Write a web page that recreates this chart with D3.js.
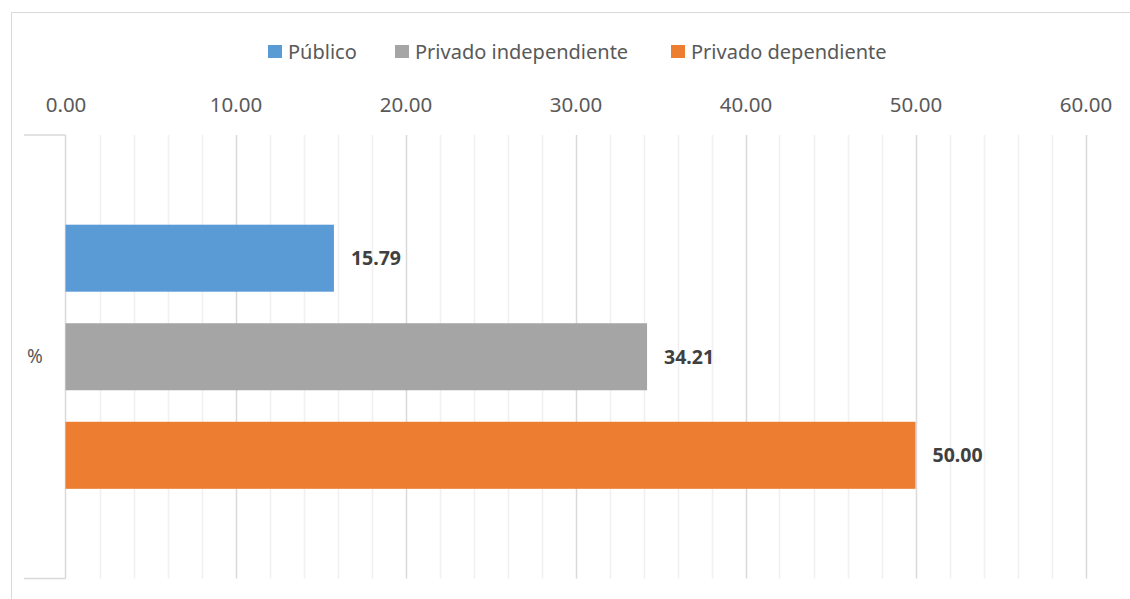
<!DOCTYPE html>
<html>
<head>
<meta charset="utf-8">
<script src="https://cdn.jsdelivr.net/npm/d3@7"></script>
<style>
  body { margin: 0; background: #fff; }
  text { font-family: "Noto Sans", sans-serif; }
</style>
</head>
<body>
<svg id="chart" width="1130" height="599"></svg>
<script>
var series = ["Público", "Privado independiente", "Privado dependiente"];
var values = [15.79, 34.21, 50.00];
var colors = ["#5B9BD5", "#A5A5A5", "#ED7D31"];
var category = "%";
var ticks = [0, 10, 20, 30, 40, 50, 60];

var svg = d3.select("#chart");
var width = 1130, height = 599;

// chart frame
svg.append("rect")
    .attr("x", 11.5).attr("y", 12.5)
    .attr("width", width + 20).attr("height", height + 20)
    .attr("fill", "none").attr("stroke", "#d9d9d9");

var plot = {left: 65.5, right: 1085.5, top: 135, bottom: 578.5};

var x = d3.scaleLinear().domain([0, 60]).range([plot.left, plot.right]);
var y = d3.scaleBand().domain(series)
    .range([plot.top, plot.bottom])
    .paddingInner(0.32).paddingOuter(0.91);

// minor gridlines
svg.append("g").selectAll("line")
    .data(d3.range(2, 60, 2).filter(function(d) { return d % 10 != 0; }))
    .enter().append("line")
    .attr("x1", function(d) { return Math.round(x(d)) + 0.5; })
    .attr("x2", function(d) { return Math.round(x(d)) + 0.5; })
    .attr("y1", plot.top).attr("y2", plot.bottom)
    .attr("stroke", "#f0f0f0").attr("stroke-width", 1.5);

// major gridlines
svg.append("g").selectAll("line")
    .data(ticks.slice(1))
    .enter().append("line")
    .attr("x1", function(d) { return Math.round(x(d)) + 0.5; })
    .attr("x2", function(d) { return Math.round(x(d)) + 0.5; })
    .attr("y1", plot.top).attr("y2", plot.bottom)
    .attr("stroke", "#d9d9d9").attr("stroke-width", 1.5);

// top value axis
var xAxis = d3.axisTop(x).tickValues(ticks).tickSize(0).tickPadding(0)
    .tickFormat(d3.format(".2f"));
var gx = svg.append("g").attr("transform", "translate(0,112)").call(xAxis);
gx.select(".domain").remove();
gx.selectAll("text")
    .attr("font-family", "Noto Sans")
    .attr("font-size", "20.5px")
    .attr("fill", "#595959")
    .attr("dy", 0);

// category axis
svg.append("line")
    .attr("x1", plot.left).attr("x2", plot.left)
    .attr("y1", plot.top).attr("y2", plot.bottom)
    .attr("stroke", "#d9d9d9").attr("stroke-width", 1.5);
[plot.top, plot.bottom].forEach(function(v) {
  svg.append("line")
      .attr("x1", 24).attr("x2", plot.left)
      .attr("y1", v).attr("y2", v)
      .attr("stroke", "#d9d9d9").attr("stroke-width", 1.5);
});
svg.append("text")
    .attr("x", 35).attr("y", (plot.top + plot.bottom) / 2)
    .attr("text-anchor", "middle").attr("dy", "0.35em")
    .attr("font-size", "19px").attr("fill", "#595959")
    .text(category);

// bars
svg.append("g").selectAll("rect")
    .data(series)
    .enter().append("rect")
    .attr("x", x(0))
    .attr("y", function(d) { return y(d); })
    .attr("width", function(d, i) { return x(values[i]) - x(0); })
    .attr("height", y.bandwidth())
    .attr("fill", function(d, i) { return colors[i]; });

// data labels
svg.append("g").selectAll("text")
    .data(series)
    .enter().append("text")
    .attr("x", function(d, i) { return x(values[i]) + 17; })
    .attr("y", function(d) { return y(d) + y.bandwidth() / 2; })
    .attr("dy", "0.35em")
    .attr("font-size", "19.5px").attr("font-weight", "bold")
    .attr("fill", "#404040")
    .text(function(d, i) { return d3.format(".2f")(values[i]); });

// legend
var legendX = [268, 395, 671];
var leg = svg.append("g").selectAll("g")
    .data(series)
    .enter().append("g")
    .attr("transform", function(d, i) { return "translate(" + legendX[i] + ",45)"; });
leg.append("rect")
    .attr("width", 14).attr("height", 13)
    .attr("fill", function(d, i) { return colors[i]; });
leg.append("text")
    .attr("x", 20).attr("y", 7)
    .attr("dy", "0.35em")
    .attr("font-size", "20px").attr("fill", "#595959")
    .text(function(d) { return d; });
</script>
</body>
</html>
